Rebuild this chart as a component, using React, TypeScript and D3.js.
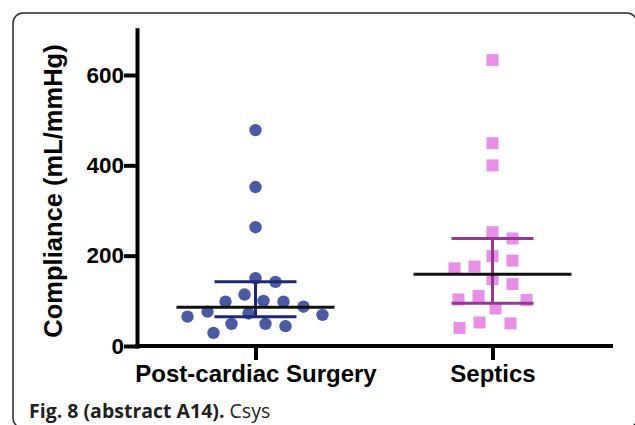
import React, { useEffect, useRef } from "react";
import * as d3 from "d3";

// values (mL/mmHg)
const categories = ["Post-cardiac Surgery", "Septics"];
const postCardiac = [478, 352, 263, 150, 142, 114, 100, 98, 98, 87, 76, 72, 69, 65, 49, 49, 44, 29];
const septics = [633, 449, 400, 252, 238, 199, 189, 176, 172, 148, 137, 111, 103, 102, 83, 52, 50, 40];
const centre = [86, 159];
const lower = [65, 94.5];
const upper = [142, 238];
const yTicks = [0, 200, 400, 600];

const W = 635;
const H = 425;
const FONT = "'Liberation Sans', Arial, Helvetica, sans-serif";

// greedy beeswarm: spread points sideways so they don't overlap
function swarm(values: number[], y: (v: number) => number, colW: number, rowH: number) {
  const placed: { x: number; y: number }[] = [];
  const offs = new Array(values.length).fill(0);
  const order = values.map((_, i) => i).sort((a, b) => values[b] - values[a]);
  for (const i of order) {
    const py = y(values[i]);
    let off = 0;
    for (let k = 0; k < 600; k++) {
      const cand = k === 0 ? 0 : (k % 2 ? 1 : -1) * Math.ceil(k / 2);
      const ok = placed.every((p) => ((p.x - cand) / colW) ** 2 + ((p.y - py) / rowH) ** 2 >= 1);
      if (ok) {
        off = cand;
        break;
      }
    }
    placed.push({ x: off, y: py });
    offs[i] = off;
  }
  return offs;
}

export default function App() {
  const ref = useRef<SVGSVGElement | null>(null);

  useEffect(() => {
    if (!ref.current) return;
    const svg = d3.select(ref.current);
    svg.selectAll("*").remove();

    svg.append("rect").attr("width", W).attr("height", H).attr("fill", "#fff");
    // rounded frame
    svg
      .append("rect")
      .attr("x", 13)
      .attr("y", 13)
      .attr("width", 624)
      .attr("height", 415)
      .attr("rx", 10)
      .attr("fill", "none")
      .attr("stroke", "#2a2a2a")
      .attr("stroke-width", 1.5);

    const left = 137;
    const right = 611;
    const bottom = 346;

    const x = d3.scalePoint<string>().domain(categories).range([left, right]).padding(0.5);
    const y = d3.scaleLinear().domain([0, 700]).range([bottom, bottom - 700 * (271 / 600)]);

    // y axis
    const gy = svg
      .append("g")
      .attr("transform", `translate(${left},0)`)
      .call(d3.axisLeft(y).tickValues(yTicks).tickSize(11).tickSizeOuter(0).tickPadding(2));
    gy.selectAll("path, line").attr("stroke", "#000").attr("stroke-width", 4).attr("stroke-linecap", "square");
    gy.selectAll("text")
      .attr("font-family", FONT)
      .attr("font-weight", "bold")
      .attr("font-size", 22.5)
      .attr("fill", "#000");

    // x axis
    const gx = svg
      .append("g")
      .attr("transform", `translate(0,${bottom})`)
      .call(d3.axisBottom(x).tickSize(12).tickSizeOuter(0).tickPadding(7));
    gx.select(".domain").attr("d", `M${left},0H${right}`);
    gx.selectAll("path, line").attr("stroke", "#000").attr("stroke-width", 4).attr("stroke-linecap", "square");
    gx.selectAll("text")
      .attr("font-family", FONT)
      .attr("font-weight", "bold")
      .attr("font-size", 24)
      .attr("fill", "#000");

    // axis title
    svg
      .append("text")
      .attr("transform", `translate(62,191) rotate(-90)`)
      .attr("text-anchor", "middle")
      .attr("font-family", FONT)
      .attr("font-weight", "bold")
      .attr("font-size", 25.5)
      .attr("fill", "#000")
      .text("Compliance (mL/mmHg)");

    const yf = (v: number) => y(v);

    // group 1: circles
    const cx0 = x(categories[0])!;
    const off0 = swarm(postCardiac, yf, 20, 19);
    svg
      .append("g")
      .selectAll("circle")
      .data(postCardiac)
      .join("circle")
      .attr("cx", (_, i) => cx0 + off0[i])
      .attr("cy", (d) => y(d))
      .attr("r", 6.2)
      .attr("fill", "#4a5aa3");

    // group 2: squares
    const cx1 = x(categories[1])!;
    const off1 = swarm(septics, yf, 20, 22);
    const sq = 12;
    svg
      .append("g")
      .selectAll("rect")
      .data(septics)
      .join("rect")
      .attr("x", (_, i) => cx1 + off1[i] - sq / 2)
      .attr("y", (d) => y(d) - sq / 2)
      .attr("width", sq)
      .attr("height", sq)
      .attr("fill", "#ea8fe8");

    // centre line and spread bars
    const barColors = ["#1e2878", "#923a90"];
    categories.forEach((c, i) => {
      const cx = x(c)!;
      const g = svg.append("g").attr("fill", "none").attr("stroke-width", 3);
      g.append("line")
        .attr("x1", cx)
        .attr("x2", cx)
        .attr("y1", y(upper[i]))
        .attr("y2", y(lower[i]))
        .attr("stroke", barColors[i]);
      [upper[i], lower[i]].forEach((v) => {
        g.append("line")
          .attr("x1", cx - 41)
          .attr("x2", cx + 41)
          .attr("y1", y(v))
          .attr("y2", y(v))
          .attr("stroke", barColors[i]);
      });
      g.append("line")
        .attr("x1", cx - 79)
        .attr("x2", cx + 79)
        .attr("y1", y(centre[i]))
        .attr("y2", y(centre[i]))
        .attr("stroke", "#111");
    });

    // caption
    const cap = svg
      .append("text")
      .attr("x", 29)
      .attr("y", 418)
      .attr("font-family", "'Open Sans', 'Noto Sans', sans-serif")
      .attr("font-size", 19.5)
      .attr("fill", "#231f20");
    cap.append("tspan").attr("font-weight", "bold").text("Fig. 8 (abstract A14).");
    cap.append("tspan").text(" Csys");
  }, []);

  return (
    <svg
      ref={ref}
      width={W}
      height={H}
      style={{ position: "fixed", left: 0, top: 0, display: "block" }}
    />
  );
}
